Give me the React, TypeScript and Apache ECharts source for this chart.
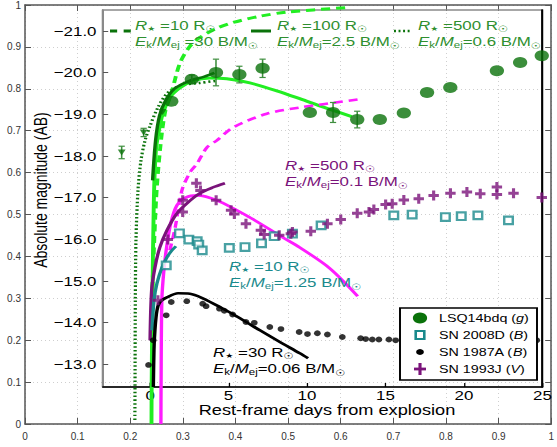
import React, { useEffect, useRef } from 'react';
import * as echarts from 'echarts';

const W = 557;
const H = 447;
// the light-curve panel is drawn on a canvas stretched horizontally
const SX = 1.3;
const IW = W / SX;
const FONT = "'Liberation Sans', Arial, 'DejaVu Sans', sans-serif";

const DKGREEN = '#0a720a';
const LABELGREEN = '#2f8f2f';
const LIME = '#22ee22';
const MAGENTA = '#ff1cff';
const PURPLE = '#7a137a';
const TEAL = '#1a8a8c';

// frame axes
const frameTicks = [0, 0.1, 0.2, 0.3, 0.4, 0.5, 0.6, 0.7, 0.8, 0.9, 1];

// light-curve axes
const dayTicks = [0, 5, 10, 15, 20, 25];
const magTicks = [-21, -20, -19, -18, -17, -16, -15, -14, -13];

// LSQ14bdq (g): [day, mag, error]
const lsq14bdq: [number, number, number][] = [
  [1.35, -19.31, 0], [2.66, -19.84, 0.1], [4.2, -20.0, 0.32], [5.69, -19.95, 0.2],
  [7.17, -20.1, 0.22], [10.18, -19.04, 0], [11.66, -19.04, 0.24], [13.2, -18.87, 0.2],
  [14.64, -18.87, 0], [16.17, -19.03, 0], [17.65, -19.52, 0], [19.13, -19.64, 0],
  [22.1, -20.04, 0], [23.58, -20.24, 0], [24.96, -20.4, 0],
];
// LSQ14bdq early detections: [day, mag, error]
const lsqEarly: [number, number, number][] = [
  [-1.81, -18.08, 0.15], [-0.41, -18.56, 0.1], [0.8, -19.05, 0],
];
// SN 2008D (B)
const sn2008D: [number, number][] = [
  [1.03, -15.37], [1.87, -16.14], [2.47, -15.99], [3.0, -15.95], [3.1, -15.87], [3.32, -15.73],
  [5.05, -15.79], [6.05, -15.81], [7.1, -15.9], [7.91, -16.07], [9.07, -16.13], [10.9, -16.33],
  [15.53, -16.57], [16.7, -16.59], [18.82, -16.53], [19.83, -16.55], [20.89, -16.57], [22.84, -16.45],
];
// SN 1987A (B)
const sn1987A: [number, number][] = [
  [-0.1, -12.98], [0.2, -13.57], [1.03, -14.17], [1.35, -14.49], [2.34, -14.51], [3.35, -14.45],
  [3.57, -14.39], [4.42, -14.33], [4.73, -14.28], [5.26, -14.19], [6.11, -14.01], [6.64, -13.99],
  [7.63, -13.89], [8.34, -13.84], [9.5, -13.77], [10.03, -13.72], [10.66, -13.74], [11.3, -13.71],
  [12.25, -13.65], [13.42, -13.62], [13.74, -13.6], [14.16, -13.59], [14.58, -13.59], [15.22, -13.59],
  [15.65, -13.57], [24.64, -13.57],
];
// SN 1993J (V)
const sn1993J: [number, number][] = [
  [0.5, -14.53], [1.13, -15.99], [2.08, -16.65], [2.08, -16.93], [2.95, -17.34], [3.21, -17.17],
  [4.21, -16.93], [5.16, -16.69], [5.37, -16.6], [6.11, -16.37], [7.06, -16.21], [7.27, -16.11],
  [8.23, -16.09], [8.97, -16.13], [9.07, -16.17], [10.24, -16.19], [11.3, -16.37], [12.15, -16.47],
  [13.2, -16.62], [13.95, -16.65], [14.26, -16.71], [15.01, -16.83], [15.43, -16.85], [16.17, -16.94],
  [17.12, -16.97], [18.07, -17.05], [19.14, -17.1], [20.19, -17.13], [21.04, -17.09], [22.1, -17.25],
  [22.1, -17.07], [23.16, -17.1], [24.96, -17.0],
];

// model light curves [day, mag]
const modelR10: [number, number][] = [
  [0.12, -14.53], [0.38, -16.93], [0.63, -18.13], [0.95, -19.04], [1.37, -19.52], [1.9, -20.22],
  [2.54, -20.63], [3.17, -20.84], [4.24, -21.06], [5.28, -21.2], [7.0, -21.35], [8.72, -21.45], [12.6, -21.56],
];
const modelR100: [number, number][] = [
  [0.09, -11.56], [0.1, -12.45], [0.15, -14.53], [0.24, -16.93], [0.37, -18.13], [0.56, -18.6],
  [0.81, -19.01], [1.26, -19.4], [1.89, -19.63], [2.72, -19.8], [3.8, -19.87], [4.89, -19.85],
  [6.36, -19.75], [8.07, -19.56], [9.54, -19.37], [11.1, -19.16], [12.85, -18.94],
];
const modelR100Rise: [number, number][] = [
  [0.16, -17.41], [0.35, -18.37], [0.6, -18.96], [0.98, -19.32], [1.56, -19.61], [2.51, -19.8],
  [3.46, -19.9], [4.1, -19.99],
];
const modelR500: [number, number][] = [
  [-0.97, -11.66], [-0.96, -12.45], [-0.94, -14.53], [-0.9, -15.97], [-0.77, -17.17], [-0.58, -17.89],
  [-0.32, -18.37], [0.0, -18.72], [0.5, -19.16], [1.07, -19.49], [1.9, -19.68], [3.17, -19.75], [4.24, -19.8],
];
const magentaSolid: [number, number][] = [
  [0.69, -11.56], [0.7, -12.45], [0.75, -14.53], [0.88, -15.25], [1.07, -15.85], [1.33, -16.4],
  [1.71, -16.81], [2.29, -17.0], [2.98, -17.05], [4.26, -16.93], [6.36, -16.52], [8.46, -16.04],
  [9.54, -15.8], [11.45, -15.3], [13.23, -14.63],
];
const magentaDashed: [number, number][] = [
  [1.26, -15.73], [1.6, -16.28], [2.03, -17.17], [2.54, -17.6], [2.99, -17.81], [3.62, -18.2],
  [4.26, -18.37], [5.28, -18.68], [7.44, -19.01], [9.54, -19.16], [13.23, -19.35],
];
const model1993J: [number, number][] = [
  [0.0, -13.57], [0.1, -14.77], [0.31, -15.32], [0.62, -15.8], [1.07, -16.21], [1.71, -16.62],
  [2.35, -16.86], [3.17, -17.1], [4.0, -17.24], [4.77, -17.34],
];
const model2008D: [number, number][] = [
  [0.12, -13.81], [0.25, -14.53], [0.44, -14.94], [0.76, -15.32], [1.07, -15.56], [1.39, -15.73], [1.65, -15.83],
];
const model1987A: [number, number][] = [
  [0.21, -12.45], [0.25, -13.34], [0.31, -13.81], [0.44, -14.29], [0.63, -14.49], [1.07, -14.6],
  [1.78, -14.7], [2.54, -14.69], [3.36, -14.58], [4.45, -14.37], [5.73, -14.1], [7.0, -13.81],
  [8.27, -13.53], [9.54, -13.26], [10.07, -13.14],
];

const legendNames = ['LSQ14bdq ({i|g})', 'SN 2008D ({i|B})', 'SN 1987A ({i|B})', 'SN 1993J ({i|V})'];

const px = (x: number) => x / SX;

function richFor(color: string, size: number) {
  return {
    i: { fontStyle: 'italic', fontSize: size, fill: color, fontFamily: FONT },
    st: { fontSize: 7, fill: color, fontFamily: "'DejaVu Sans', sans-serif", padding: [7, 0, 0, 0] },
    s: { fontSize: size * 0.68, fill: color, fontFamily: FONT, padding: [7, 0, 0, 0] },
    o: { fontSize: size * 0.68, fill: color, fontFamily: FONT, padding: [8, 0, 0, 0] },
  };
}

function paramLabel(x: number, y: number, color: string, radius: string, energy: string, gap = ' ') {
  const size = 13;
  const common = { fill: color, fontSize: size, fontFamily: FONT, align: 'left', verticalAlign: 'middle', rich: richFor(color, size) };
  return [
    { type: 'text', x: px(x), y, z: 50, style: { ...common, text: `{i|R}{st|\u2605} =${radius} R{o|\u2609}` } },
    { type: 'text', x: px(x), y: y + 16.5, z: 50, style: { ...common, text: `{i|E}{s|k}/{i|M}{s|ej}${gap}=${energy} B/M{o|\u2609}` } },
  ];
}

function lineSeries(data: [number, number][], color: string, width: number, type: any, clip = true) {
  return {
    type: 'line', data, symbol: 'none', smooth: 0.3, clip, z: 2,
    lineStyle: { color, width, type },
  };
}

function errorBars(data: [number, number, number][], color: string) {
  return {
    type: 'custom', data, z: 3, clip: false,
    encode: { x: 0, y: 1 },
    renderItem: (_p: any, api: any) => {
      const x = api.value(0), y = api.value(1), e = api.value(2);
      if (!e) return { type: 'group', children: [] };
      const a = api.coord([x, y - e]);
      const b = api.coord([x, y + e]);
      const c = 2.4;
      const st = { stroke: color, lineWidth: 1.2 };
      return {
        type: 'group', children: [
          { type: 'line', shape: { x1: a[0], y1: a[1], x2: b[0], y2: b[1] }, style: st },
          { type: 'line', shape: { x1: a[0] - c, y1: a[1], x2: a[0] + c, y2: a[1] }, style: st },
          { type: 'line', shape: { x1: b[0] - c, y1: b[1], x2: b[0] + c, y2: b[1] }, style: st },
        ],
      };
    },
  };
}

const PLUS = 'path://M3.5,0H6.5V3.5H10V6.5H6.5V10H3.5V6.5H0V3.5H3.5Z';

function outerOption() {
  const axisLine = { show: true, onZero: false, lineStyle: { color: '#555', width: 1.5 } };
  const tick = { show: true, inside: true, length: 6, lineStyle: { color: '#555', width: 1 } };
  const split = { show: true, lineStyle: { color: '#cfcfcf', width: 1, type: [1, 3] } };
  const lab = { fontSize: 10, color: '#333', fontFamily: FONT };
  const base = { type: 'value', min: 0, max: 1, interval: 0.1 };
  return {
    animation: false,
    grid: { left: 25, right: 1, top: 4, bottom: 23 },
    xAxis: [
      { ...base, position: 'bottom', axisLine, axisTick: tick, axisLabel: { ...lab, margin: 7 }, splitLine: split },
      { ...base, position: 'top', axisLine, axisTick: tick, axisLabel: { show: false }, splitLine: { show: false } },
    ],
    yAxis: [
      { ...base, position: 'left', axisLine, axisTick: tick, axisLabel: { ...lab, margin: 4 }, splitLine: split },
      { ...base, position: 'right', axisLine, axisTick: tick, axisLabel: { show: false }, splitLine: { show: false } },
    ],
    series: [{ type: 'line', data: frameTicks.map((t) => [t, t]), symbol: 'none', lineStyle: { opacity: 0 } }],
  };
}

function innerOption() {
  const yBase = { type: 'value', min: -21.5, max: -12.45, inverse: true, splitLine: { show: false } };
  const legendX = px(400), legendY = 308, legendW = px(537) - px(400), legendH = 72;
  const markX = px(420), textX = px(439);
  const rowY = (k: number) => 318 + k * 17;
  const legendMarks: any[] = [
    { type: 'circle', shape: { cx: markX, cy: rowY(0), r: 5.5 }, style: { fill: DKGREEN }, z: 101 },
    { type: 'rect', shape: { x: markX - 3.3, y: rowY(1) - 4, width: 6.6, height: 8 }, style: { fill: '#fff', stroke: TEAL, lineWidth: 2 }, z: 101 },
    { type: 'circle', shape: { cx: markX, cy: rowY(2), r: 3 }, style: { fill: '#000' }, z: 101 },
    { type: 'line', shape: { x1: markX - 4.6, y1: rowY(3), x2: markX + 4.6, y2: rowY(3) }, style: { stroke: PURPLE, lineWidth: 2.8 }, z: 101 },
    { type: 'line', shape: { x1: markX, y1: rowY(3) - 6, x2: markX, y2: rowY(3) + 6 }, style: { stroke: PURPLE, lineWidth: 2.4 }, z: 101 },
  ];
  const legendTexts = legendNames.map((t, k) => ({
    type: 'text', x: textX, y: rowY(k), z: 101,
    style: {
      text: t, fill: '#000', fontSize: 11, fontFamily: FONT, align: 'left', verticalAlign: 'middle',
      rich: { i: { fontStyle: 'italic', fontSize: 11, fill: '#000', fontFamily: FONT } },
    },
  }));

  return {
    animation: false,
    grid: { left: px(103), right: IW - px(543), top: 10, bottom: H - 387, show: true, borderColor: '#8a8a8a', borderWidth: 1.5, backgroundColor: 'transparent' },
    xAxis: {
      type: 'value', min: -3, max: 25,
      axisLine: { show: true, onZero: false, lineStyle: { color: '#000', width: 1.5 } },
      axisTick: { show: true, inside: true, length: 4, customValues: dayTicks, lineStyle: { color: '#000' } },
      axisLabel: { customValues: dayTicks, fontSize: 13, color: '#000', fontFamily: FONT, margin: 2 },
      splitLine: { show: false },
    },
    yAxis: [
      {
        ...yBase, position: 'left',
        axisLine: { show: true, onZero: false, lineStyle: { color: '#8a8a8a', width: 1.5 } },
        axisTick: { show: true, inside: true, length: 4, customValues: magTicks, lineStyle: { color: '#555' } },
        axisLabel: {
          customValues: magTicks, fontSize: 13, color: '#000', fontFamily: FONT, margin: 5,
          formatter: (v: number) => v.toFixed(1).replace('-', '\u2212'),
        },
      },
      {
        ...yBase, position: 'right',
        axisLine: { show: true, onZero: false, lineStyle: { color: '#000', width: 1.5 } },
        axisTick: { show: false }, axisLabel: { show: false },
      },
    ],
    series: [
      lineSeries(modelR500, DKGREEN, 2.5, [1.6, 2.2], false),
      lineSeries(modelR10, LIME, 3, [7, 4.5], false),
      lineSeries(modelR100, LIME, 3, 'solid', false),
      lineSeries(modelR100Rise, DKGREEN, 2.6, 'solid'),
      lineSeries(magentaDashed, MAGENTA, 2.6, [7, 4.5]),
      lineSeries(magentaSolid, MAGENTA, 2.6, 'solid', false),
      lineSeries(model1993J, PURPLE, 2.6, 'solid'),
      lineSeries(model2008D, TEAL, 2.6, 'solid'),
      lineSeries(model1987A, '#000', 2.6, 'solid'),
      errorBars(lsq14bdq, '#3f8f3f'),
      errorBars(lsqEarly, '#3f8f3f'),
      {
        type: 'scatter', name: 'LSQ14bdq', data: lsq14bdq.map((d) => [d[0], d[1]]), symbol: 'circle', symbolSize: 11, z: 4,
        itemStyle: { color: DKGREEN },
      },
      {
        type: 'scatter', data: lsqEarly.map((d) => [d[0], d[1]]), symbol: 'triangle', symbolRotate: 180, symbolSize: [6, 6], z: 4,
        itemStyle: { color: DKGREEN },
      },
      {
        type: 'scatter', name: 'SN 2008D', data: sn2008D, symbol: 'rect', symbolSize: [6.6, 7.6], z: 4,
        itemStyle: { color: '#fff', borderColor: TEAL, borderWidth: 2 },
      },
      {
        type: 'scatter', name: 'SN 1987A', data: sn1987A, symbol: 'circle', symbolSize: [5.2, 5.8], z: 4,
        itemStyle: { color: '#000' },
      },
      {
        type: 'scatter', name: 'SN 1993J', data: sn1993J, symbol: PLUS, symbolSize: [8, 10], z: 5,
        itemStyle: { color: PURPLE },
      },
    ],
    graphic: [
      // key for the LSQ14bdq models
      { type: 'line', z: 50, shape: { x1: px(110), y1: 31, x2: px(132), y2: 31 }, style: { stroke: DKGREEN, lineWidth: 3, lineDash: [5.5, 5] } },
      { type: 'line', z: 50, shape: { x1: px(251), y1: 31, x2: px(271), y2: 31 }, style: { stroke: DKGREEN, lineWidth: 3 } },
      { type: 'line', z: 50, shape: { x1: px(394), y1: 31, x2: px(410), y2: 31 }, style: { stroke: DKGREEN, lineWidth: 2.5, lineDash: [1.5, 2] } },
      ...paramLabel(135, 25, LABELGREEN, '10', '30', ' '),
      ...paramLabel(277, 25, LABELGREEN, '100', '2.5', ''),
      ...paramLabel(418, 25, LABELGREEN, '500', '0.6', ''),
      ...paramLabel(285, 165, PURPLE, '500', '0.1', ''),
      ...paramLabel(229, 266, TEAL, '10', '1.25', ''),
      ...paramLabel(213, 352, '#000', '30', '0.06', ''),
      // axis titles
      {
        type: 'text', x: px(327), y: 410, z: 50,
        style: { text: 'Rest-frame days from explosion', fill: '#000', fontSize: 14, fontFamily: FONT, align: 'center', verticalAlign: 'middle' },
      },
      {
        type: 'text', x: px(40), y: 190, rotation: Math.PI / 2, z: 50,
        style: { text: 'Absolute magnitude (AB)', fill: '#000', fontSize: 14, fontFamily: FONT, align: 'center', verticalAlign: 'middle' },
      },
      // legend box
      { type: 'rect', z: 100, shape: { x: legendX, y: legendY, width: legendW, height: legendH }, style: { fill: '#fff', stroke: '#000', lineWidth: 1.5 } },
      ...legendMarks,
      ...legendTexts,
    ],
  };
}

export default function App() {
  const outerRef = useRef<HTMLDivElement>(null);
  const innerRef = useRef<HTMLDivElement>(null);
  useEffect(() => {
    const outer = echarts.init(outerRef.current as HTMLDivElement, undefined, { renderer: 'svg' });
    const inner = echarts.init(innerRef.current as HTMLDivElement, undefined, { renderer: 'svg' });
    outer.setOption(outerOption() as any);
    inner.setOption(innerOption() as any);
    return () => {
      outer.dispose();
      inner.dispose();
    };
  }, []);
  return (
    <div style={{ position: 'fixed', left: 0, top: 0, width: W, height: H, background: '#fff', overflow: 'hidden' }}>
      <div ref={outerRef} style={{ position: 'absolute', left: 0, top: 0, width: W, height: H }} />
      <div
        ref={innerRef}
        style={{ position: 'absolute', left: 0, top: 0, width: IW, height: H, transform: `scaleX(${SX})`, transformOrigin: '0 0' }}
      />
    </div>
  );
}
